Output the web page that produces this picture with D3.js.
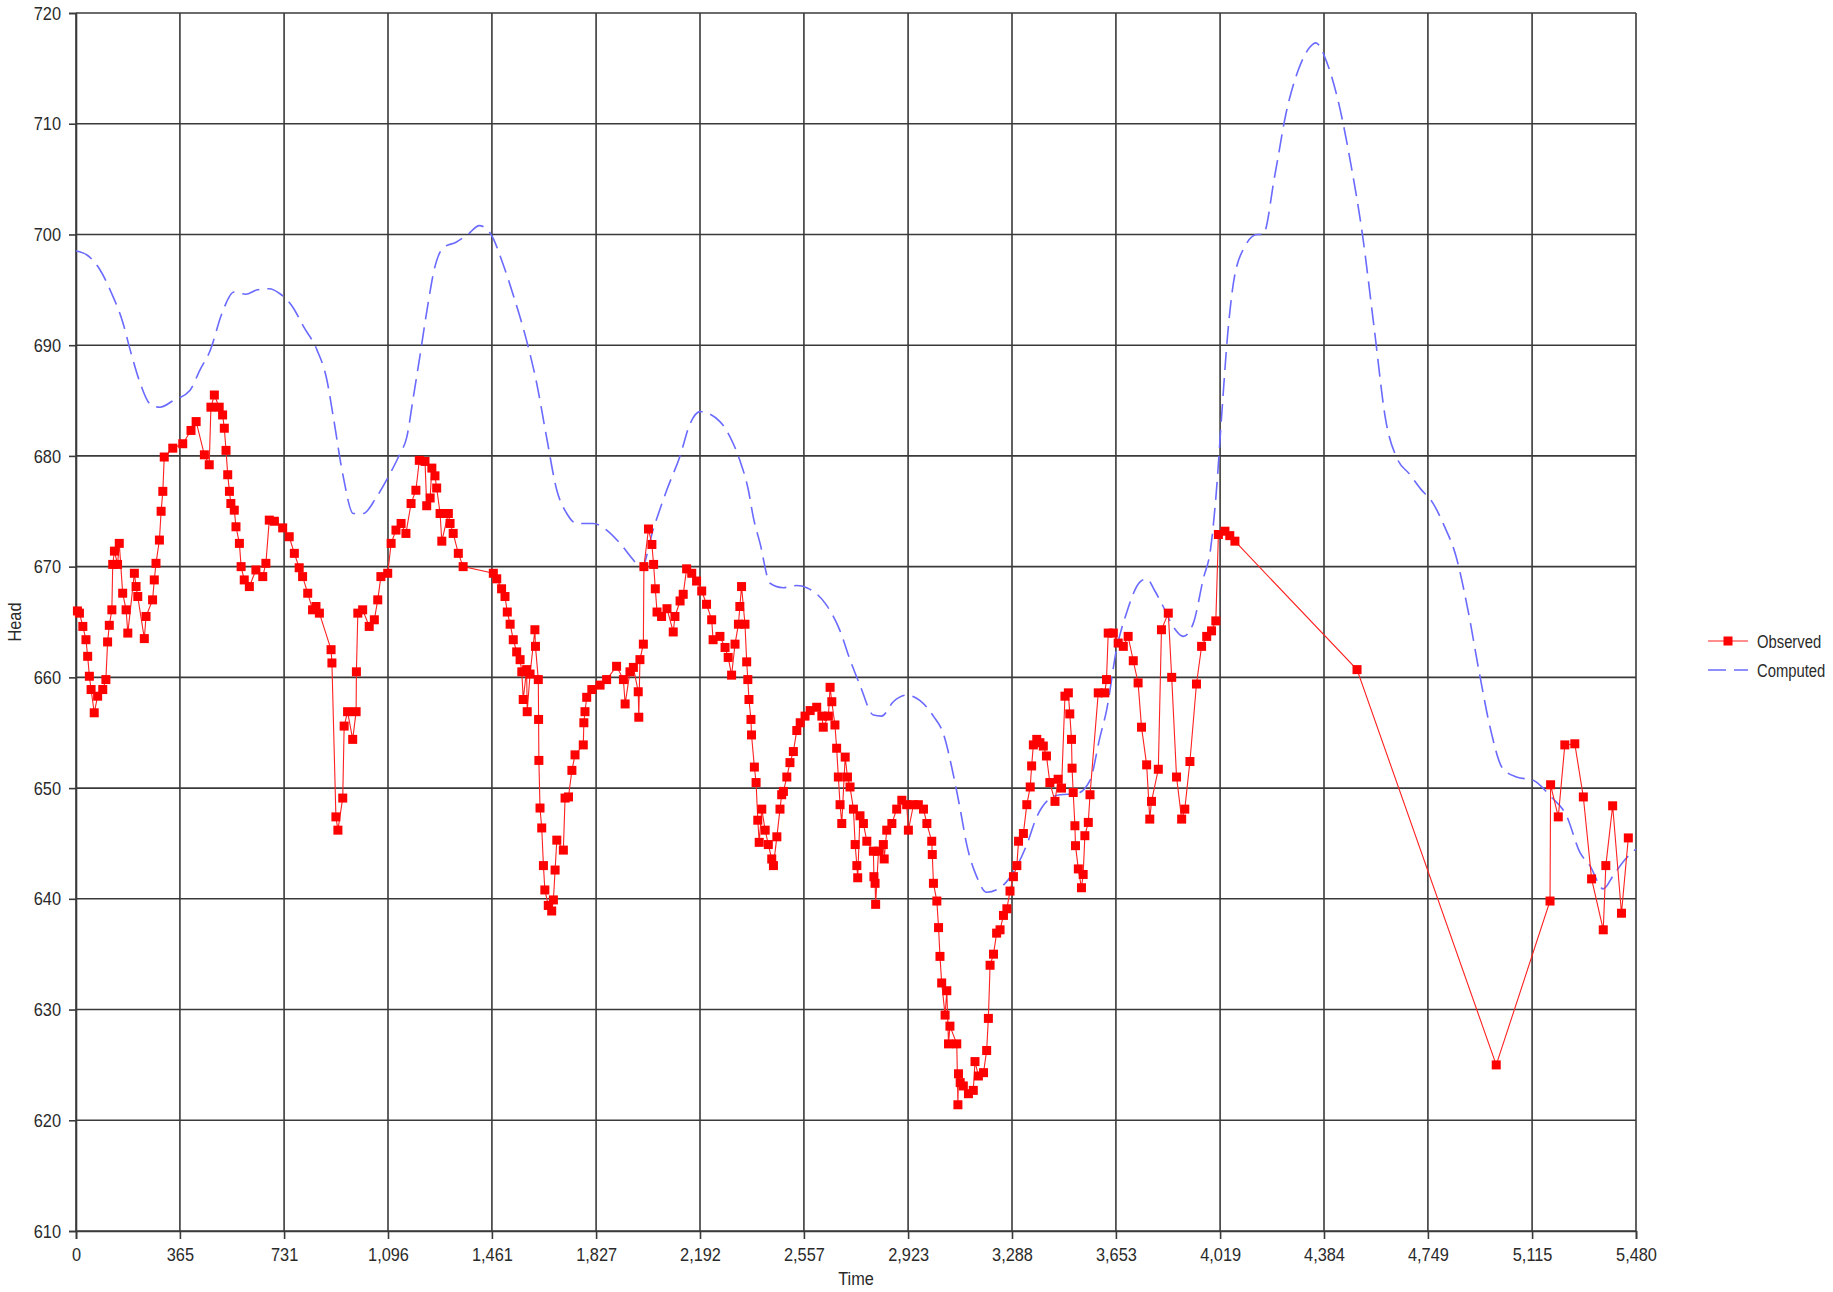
<!DOCTYPE html>
<html><head><meta charset="utf-8">
<script src="https://cdn.jsdelivr.net/npm/d3@7"></script>
<style>
html,body{margin:0;padding:0;background:#fff;}
svg text{font-family:"Liberation Sans Narrow","Arial Narrow","Liberation Sans",Arial,sans-serif;fill:#2a2a2a;}
</style></head>
<body><svg id="chart" width="1833" height="1292"></svg>
<script>
// ---- data ----
const xTickValues = [0,365,731,1096,1461,1827,2192,2557,2923,3288,3653,4019,4384,4749,5115,5480];
const xTickLabels = ["0","365","731","1,096","1,461","1,827","2,192","2,557","2,923","3,288","3,653","4,019","4,384","4,749","5,115","5,480"];
const yTickValues = [610,620,630,640,650,660,670,680,690,700,710,720];
const seriesNames = ["Observed","Computed"];

const observedTime = [
 5,12,24,35,41,47,53,64,76,94,105,111,117,126,129,135,146,152,164,176,
 182,205,211,217,240,246,269,275,281,293,299,305,310,340,375,404,422,451,468,474,
 486,503,515,521,527,533,539,544,556,562,574,580,591,609,632,656,667,679,697,726,
 749,767,784,796,814,831,843,855,896,899,913,920,937,942,954,972,984,985,990,1007,
 1030,1048,1060,1071,1095,1107,1124,1142,1159,1177,1194,1206,
 1226,1232,1244,1250,1261,1267,1279,1285,1308,1314,1325,1343,1360,1466,1478,1495,1507,1515,1525,1536,
 1548,1560,1566,1571,1583,1585,1595,1612,1614,1624,1625,1626,1630,1636,1642,1647,1659,1671,1677,1683,
 1689,1712,1718,1730,1742,1753,1782,1784,1788,1794,1812,1841,1864,1899,1923,1929,1946,1958,1975,1977,
 1981,1993,1995,2011,2023,2029,2035,2041,2057,2076,2098,2104,2122,2133,2145,2163,2180,2198,2215,2233,
 2238,2262,2280,2291,2303,2315,2327,2332,2338,2350,2356,2360,2364,2371,2373,2383,2389,2395,2400,
 2409,2421,2432,2444,2450,2462,2473,2479,2485,2497,2508,2520,2532,2544,2561,2579,2602,2620,2625,2643,
 2649,2655,2666,2672,2678,2684,2690,2702,2710,2719,2731,2737,2743,2746,2754,2766,2778,2801,2803,2807,
 2809,2819,2836,2839,2848,2866,2883,2901,2918,2924,2942,2959,2977,2989,3006,3008,3012,3024,3030,3035,
 3041,3053,3059,3065,3070,3094,3098,3100,3106,3117,3135,3152,3158,3170,3188,3199,3205,3211,3223,3234,
 3246,3258,3270,3281,3293,3305,3311,3328,3340,3352,3357,3363,3375,
 3386,3398,3409,3421,3439,3450,3462,3474,3486,3491,3497,3499,3503,3509,3511,3521,3532,3538,3544,3556,
 3562,3591,3614,3620,3626,3644,3661,3679,3696,3714,3731,3743,3761,3772,3778,3802,3813,3837,3849,3866,
 3884,3895,3913,3936,3954,3972,3989,4004,4013,4036,4053,4071,4500,4989,5178,5180,5207,5230,5265,5295,
 5324,5365,5374,5398,5429,5453
];
const observedHead = [
 666.0,665.8,664.6,663.4,661.9,660.1,658.9,656.8,658.3,658.9,659.8,663.2,664.7,666.1,670.2,671.4,670.2,672.1,667.6,666.1,
 664.0,669.4,668.2,667.3,663.5,665.5,667.0,668.8,670.3,672.4,675.0,676.8,679.9,680.7,681.1,682.3,683.1,680.1,679.2,684.4,
 685.5,684.4,683.7,682.5,680.5,678.3,676.8,675.7,675.1,673.6,672.1,670.0,668.8,668.2,669.7,669.1,670.3,674.2,674.1,673.5,
 672.7,671.2,669.9,669.1,667.6,666.1,666.4,665.8,662.5,661.3,647.4,646.2,649.1,655.6,656.9,654.4,656.9,660.5,665.8,666.1,
 664.6,665.2,667.0,669.1,669.4,672.1,673.3,673.9,673.0,675.7,676.9,679.6,
 679.5,675.5,676.2,678.9,678.2,677.1,674.8,672.3,674.8,673.9,673.0,671.2,670.0,669.4,668.9,668.0,667.3,665.9,664.8,663.4,
 662.3,661.6,660.5,658.0,660.7,656.9,660.3,664.3,662.8,659.8,656.2,652.5,648.2,646.4,643.0,640.8,639.4,638.9,639.9,642.6,
 645.3,644.4,649.1,649.2,651.6,653.0,653.9,655.9,656.9,658.2,658.9,659.3,659.8,661.0,659.8,657.6,660.5,660.9,658.7,656.4,
 661.6,663.0,670.0,673.4,672.0,670.2,668.0,665.9,665.5,666.2,664.1,665.5,666.9,667.5,669.8,669.4,668.7,667.8,666.6,665.2,
 663.4,663.7,662.7,661.8,660.2,663.0,664.8,666.4,668.2,664.8,661.4,659.8,658.0,656.2,654.8,651.9,650.5,647.1,645.1,
 648.1,646.2,644.9,643.6,643.0,645.6,648.1,649.4,649.7,651.0,652.3,653.3,655.2,655.9,656.5,657.0,657.3,656.5,655.5,656.5,
 659.1,657.8,655.7,653.6,651.0,648.5,646.8,652.8,651.0,650.1,648.1,644.9,643.0,641.9,647.5,646.8,645.2,644.3,642.0,641.4,
 639.5,644.3,644.9,643.6,646.2,646.8,648.1,648.9,648.5,646.2,648.5,648.5,648.1,646.8,645.2,644.0,641.4,639.8,637.4,634.8,
 632.4,629.5,631.7,626.9,628.5,626.9,621.4,624.2,623.4,623.1,622.4,622.7,625.3,624.0,624.3,626.3,629.2,634.0,635.0,636.9,
 637.2,638.5,639.1,640.7,642.0,643.0,645.2,645.9,648.5,650.1,652.0,653.9,654.4,
 654.1,653.8,652.9,650.5,648.8,650.8,650.0,658.3,658.6,656.7,654.4,651.8,649.6,646.6,644.8,642.7,641.0,642.2,645.7,646.9,
 649.4,658.6,658.6,659.8,664.0,664.0,663.1,662.8,663.7,661.5,659.5,655.5,652.1,647.2,648.8,651.7,664.3,665.8,660.0,651.0,
 647.2,648.1,652.4,659.4,662.8,663.7,664.2,665.1,672.9,673.2,672.8,672.3,660.7,625.0,639.8,650.3,647.4,653.9,654.0,649.2,
 641.8,637.2,643.0,648.4,638.7,645.5
];

const computedTime = [
 0,41,82,123,164,190,225,260,295,342,400,436,471,513,555,596,637,678,719,760,
 801,846,881,904,939,974,1009,1056,1103,1138,1162,1185,1208,1232,1260,1290,1335,1376,1417,1458,
 1499,1540,1582,1618,1653,1689,1724,1759,1817,1864,1911,1958,1985,2028,2075,2122,2157,2192,2262,2309,
 2332,2362,2379,2403,2438,2485,2532,2567,2637,2684,2719,2754,2801,2830,2871,2918,2965,3012,3047,3082,
 3106,3129,3164,3199,3246,3293,3340,3375,3410,3457,3515,3562,3597,3620,3655,3690,3737,3761,3790,3819,
 3854,3890,3925,3960,3985,4005,4026,4046,4067,4108,4149,4170,4211,4252,4293,4334,4355,4396,4437,4478,
 4519,4560,4601,4642,4683,4724,4765,4806,4847,4888,4929,4970,5011,5060,5119,5178,5236,5283,5318,5365,
 5400,5440,5480
];
const computedHead = [
 698.5,698.1,696.9,694.8,692.1,689.6,686.6,684.7,684.4,685.0,685.9,687.8,689.5,692.9,694.8,694.6,695.0,695.1,694.6,693.5,
 691.6,689.6,686.9,683.5,678.1,674.8,674.8,676.3,678.4,680.2,681.7,685.3,689.0,693.0,697.0,698.8,699.3,700.0,700.8,700.0,
 697.4,694.2,690.5,686.6,681.7,676.9,674.8,673.9,673.9,673.3,672.1,670.6,669.8,673.4,676.9,680.0,682.9,684.0,683.1,681.1,
 679.6,676.9,674.5,672.1,668.5,668.1,668.3,668.1,666.5,664.2,661.6,659.3,656.6,656.5,657.8,658.4,657.9,656.5,654.9,651.2,
 648.1,644.9,642.0,640.6,641.0,642.4,644.9,647.4,648.8,649.4,649.5,650.7,654.6,657.0,662.5,665.8,668.6,668.9,667.8,666.4,
 664.6,663.7,664.9,668.9,671.5,676.5,684.2,691.1,695.8,699.0,700.0,700.0,705.3,711.1,714.8,716.9,717.3,715.4,711.7,706.4,
 700.0,691.6,683.2,679.7,678.4,677.0,675.8,673.7,671.0,666.3,660.5,655.2,651.8,651.0,650.7,649.3,647.5,644.2,643.0,640.9,
 642.1,643.5,644.5
];

(function(){
// ---- layout ----
const svg = d3.select("#chart");
const pL = 76, pR = 1636, pT = 13, pB = 1231;
const x = d3.scaleLinear().domain([0,5480]).range([pL,pR]);
const y = d3.scaleLinear().domain([610,720]).range([pB,pT]);
const gridColor = "#3a3a3a";
const fs = "19px";

// condense tick text horizontally (narrow typeface look)
function condense(sel, k){
  sel.each(function(){
    const w = this.getComputedTextLength();
    if (w > 0) {
      this.setAttribute("textLength", (w*k).toFixed(1));
      this.setAttribute("lengthAdjust", "spacingAndGlyphs");
    }
  });
}

// gridlines
const grid = svg.append("g");
grid.selectAll("line.h").data(yTickValues).enter().append("line")
  .attr("x1",pL).attr("x2",pR).attr("y1",d=>y(d)).attr("y2",d=>y(d))
  .attr("stroke",gridColor).attr("stroke-width",1.6);
grid.selectAll("line.v").data(xTickValues).enter().append("line")
  .attr("y1",pT).attr("y2",pB).attr("x1",d=>x(d)).attr("x2",d=>x(d))
  .attr("stroke",gridColor).attr("stroke-width",1.6);

// axes
const yAxis = d3.axisLeft(y).tickValues(yTickValues).tickSize(7).tickPadding(8).tickFormat(d3.format("d"));
const gy = svg.append("g").attr("transform",`translate(${pL},0)`).call(yAxis);
const xAxis = d3.axisBottom(x).tickValues(xTickValues).tickSize(8).tickPadding(9)
  .tickFormat((d,i)=>xTickLabels[i]);
const gx = svg.append("g").attr("transform",`translate(0,${pB})`).call(xAxis);
[gx,gy].forEach(g=>{
  g.select(".domain").attr("stroke",gridColor).attr("stroke-width",1.6);
  g.selectAll(".tick line").attr("stroke",gridColor).attr("stroke-width",1.6);
  g.selectAll("text").style("font-size",fs).attr("fill","#333")
    .style("font-family",'"Liberation Sans Narrow","Arial Narrow","Liberation Sans",Arial,sans-serif');
  condense(g.selectAll("text"), 0.86);
});

// axis titles (condensed with a horizontal scale transform)
svg.append("text")
  .attr("transform",`translate(${(pL+pR)/2},1285) scale(0.86,1)`)
  .attr("text-anchor","middle").style("font-size",fs).text("Time");
svg.append("text").attr("transform",`translate(21,${(pT+pB)/2}) rotate(-90) scale(0.86,1)`)
  .attr("text-anchor","middle").style("font-size",fs).text("Head");

// series
const comp = computedTime.map((t,i)=>({t,v:computedHead[i]}));
const obs = observedTime.map((t,i)=>({t,v:observedHead[i]}));
const line = d3.line().x(d=>x(d.t)).y(d=>y(d.v)).curve(d3.curveMonotoneX);
svg.append("path").datum(comp).attr("d",line).attr("fill","none")
  .attr("stroke","#6a6aff").attr("stroke-width",1.6).attr("stroke-dasharray","18,8");

const lineObs = d3.line().x(d=>x(d.t)).y(d=>y(d.v));
svg.append("path").datum(obs).attr("d",lineObs).attr("fill","none")
  .attr("stroke","#ff2020").attr("stroke-width",1.1);
const ms = 9;
svg.append("g").selectAll("rect").data(obs).enter().append("rect")
  .attr("x",d=>x(d.t)-ms/2).attr("y",d=>y(d.v)-ms/2).attr("width",ms).attr("height",ms)
  .attr("fill","#ff0000");

// legend
const lg = svg.append("g");
const ly = [641,670];
lg.append("line").attr("x1",1708).attr("x2",1748).attr("y1",ly[0]).attr("y2",ly[0])
  .attr("stroke","#ff2020").attr("stroke-width",1.1);
lg.append("rect").attr("x",1728-ms/2).attr("y",ly[0]-ms/2).attr("width",ms).attr("height",ms).attr("fill","#ff0000");
lg.append("line").attr("x1",1708).attr("x2",1748).attr("y1",ly[1]).attr("y2",ly[1])
  .attr("stroke","#6a6aff").attr("stroke-width",1.6).attr("stroke-dasharray","18,8");
seriesNames.forEach((n,i)=>{
  lg.append("text").attr("transform",`translate(1757,${ly[i]}) scale(0.78,1)`)
    .attr("dy","0.35em").style("font-size",fs).text(n);
});
})();
</script></body></html>
